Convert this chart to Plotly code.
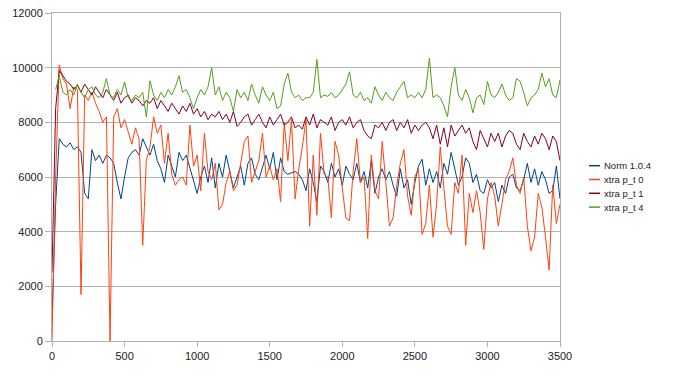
import plotly.graph_objects as go

x_values = list(range(0, 3501, 25))

norm_104 = [
    800, 5000, 7400, 7200, 7100, 7250, 7000, 7100,
    6900, 5400, 5200, 7000, 6600, 6800, 6500, 6800,
    6700, 6500, 5800, 5200, 6000, 6700, 6900, 7000,
    6800, 7400, 7100, 6800, 7200, 6600, 6300, 5800,
    6800, 6400, 6000, 6900, 6600, 6800, 6300, 5800,
    5400, 6000, 6400, 5800, 6700, 5600, 6500, 6000,
    6800, 6200, 5600, 6000, 6400, 5700, 6500, 6700,
    6100, 5900, 6400, 6800, 6300, 6900, 5900, 6700,
    6200, 6100, 6150, 6200, 6100, 5900, 5500, 6300,
    5800, 5100, 6400, 6200, 5800, 6500, 6000, 6300,
    5700, 6400, 6100, 5900, 6500, 5800, 6200, 5600,
    6600, 5400, 6000, 6300, 5900, 6200, 5700, 5300,
    6300, 5600, 5900, 5000, 5800, 6400, 6650, 5700,
    6300, 5800, 6200, 5600, 6500, 6100, 6900, 6300,
    5700, 6000, 6700, 6500, 5800, 6100, 5500, 5400,
    5900, 5600, 5800, 5100, 5700, 5400, 6000, 6100,
    5600, 5500, 5900, 6500, 5800, 6300, 5700, 6200,
    5900, 5400, 5500, 6400, 5200,
]

xtra_pt0 = [
    0, 6000, 10100, 9600, 9400, 8500, 9300, 9200,
    1700, 9000, 8800, 9100, 8700, 8400, 8000, 8200,
    0, 8200, 8500, 7800, 8100, 7600, 7200, 7800,
    7400, 3500, 6600, 7100, 8200, 7600, 7900, 6500,
    7600, 6100, 5700, 5900, 6000, 5700, 7900, 6400,
    6800, 5500, 7600, 6200, 5900, 6500, 4800, 5000,
    5800, 6200, 5500, 5700, 6500, 7300, 7500, 5800,
    6200, 6600, 7600, 6000, 6400, 5900, 6300, 5100,
    8000, 6600, 8100, 5200, 6300, 7100, 8100, 4200,
    6800, 4600, 7600, 6100, 6000, 4500, 7300, 6800,
    5600, 4500, 4400, 6200, 7400, 5800, 6000, 3750,
    6800, 5500, 5200, 7300, 5800, 4200, 4500, 5700,
    6500, 7000, 5300, 4600, 6000, 6300, 3900, 4300,
    5700, 3800, 5000, 7100, 5600, 4200, 3900, 5800,
    5400, 6800, 3500, 5400, 4700, 5500, 4700, 3350,
    5200, 5800, 5300, 4200, 5000, 5900, 6200, 6700,
    5700, 5400, 6000, 4200, 3300, 3800, 5400, 4900,
    3800, 2600, 5700, 4300, 5000,
]

xtra_pt1 = [
    2500, 8500, 9900, 9700, 9500, 9400, 9200, 9350,
    9100, 9400, 9200, 9000, 9300, 9100, 8900, 9200,
    9000, 8800, 9100, 8700, 8900, 9000, 8700, 8900,
    8800, 8600, 8800, 8700, 8900, 8500, 8800, 8600,
    8400, 8700, 8500, 8300, 8600, 8400, 8700, 8300,
    8500, 8200, 8400, 8100, 8300, 8200, 8400, 8100,
    8300, 8000, 8400, 7850, 8000, 8200, 8300, 7900,
    8100, 8300, 8000, 7800, 8200, 7900, 8100, 8300,
    7900, 8000, 8200, 7800, 7900, 7750, 8200, 7900,
    8300, 7800, 8100, 8000, 7900, 8200, 7700, 8000,
    8100, 7900, 8200, 7800, 8000, 8100, 7700, 7500,
    7400, 7900, 7800, 8000, 7700, 8000, 8100, 7700,
    8000, 7800, 8100, 7600, 7900, 7700, 7900, 8000,
    7800, 7400, 7900, 7200, 7800, 7100, 7900, 7500,
    7700, 7900, 7600, 7800, 7300, 7000, 7700, 7400,
    7100, 7600, 7300, 7600, 7100, 7500, 7700, 7600,
    7200, 7000, 7600, 7300, 7100, 7500, 7200, 7600,
    7400, 7000, 7500, 7300, 6600,
]

xtra_pt4 = [
    None, 9200, 9700, 9100, 9000, 9200, 9000, 9400,
    9100, 8900, 9200, 9300, 9000, 8900, 9100, 9600,
    9000, 8900, 9200, 9000, 9480, 8900, 8800, 9000,
    8900, 9100, 8200, 9520, 9000, 8800, 9100, 8900,
    9200, 9000, 9300, 9700, 9100, 9200, 8900, 8500,
    8900, 9200, 9000, 9300, 10000, 9000, 9300, 8800,
    9100, 8900, 8400, 9200, 8900, 9100, 8800, 9400,
    9000, 8700, 9300, 9000, 8800, 9100, 8500, 8600,
    9400, 9800, 9100, 8900, 9000, 8800, 8900, 8900,
    9100, 10300, 8900, 9000, 8950, 9100, 8900, 9000,
    9200, 9400, 9850, 9000, 8900, 9100, 8800, 8900,
    8700, 9300, 9000, 8800, 9100, 8900, 8800, 9100,
    9300, 9500, 8900, 9000, 8900, 9100, 8900, 9200,
    10350, 8900, 9000, 8900, 8600, 8200, 9300, 10000,
    9000, 8800, 9200, 8900, 8350, 8900, 9000, 8650,
    9500, 9000, 8900, 9100, 9400, 9000, 8800, 8900,
    9600, 9500, 9100, 8600, 8900, 9000, 9200, 9800,
    9300, 9600, 9000, 8900, 9550,
]

series_names = ["Norm 1.0.4", "xtra p_t 0", "xtra p_t 1", "xtra p_t 4"]
series_values = [norm_104, xtra_pt0, xtra_pt1, xtra_pt4]
colors = ["#004586", "#ff420e", "#7e0021", "#579d1c"]

y_ticks = [0, 2000, 4000, 6000, 8000, 10000, 12000]
y_tick_labels = ["0", "2000", "4000", "6000", "8000", "10000", "12000"]
x_ticks = [0, 500, 1000, 1500, 2000, 2500, 3000, 3500]
x_tick_labels = ["0", "500", "1000", "1500", "2000", "2500", "3000", "3500"]

fig = go.Figure()
for name, vals, col in zip(series_names, series_values, colors):
    assert len(vals) == len(x_values), (name, len(vals))
    fig.add_trace(go.Scatter(x=x_values, y=vals, mode="lines", name=name,
                             line=dict(color=col, width=1), connectgaps=False,
                             showlegend=False))

# page offset compensation (body margin of the html page)
OFF = 8
FIG_W, FIG_H = 675 - OFF, 377 - OFF
L, R, T, B = 52 - OFF, 560 - OFF, 13 - OFF, 341 - OFF
W, H = R - L, B - T


def px(xp):
    return (xp - OFF - L) / W


def py(yp):
    return (B - (yp - OFF)) / H


legend_y = [165.7, 179.5, 193.3, 207.1]
for name, col, yy in zip(series_names, colors, legend_y):
    fig.add_shape(type="line", xref="paper", yref="paper",
                  x0=px(589), x1=px(600), y0=py(yy), y1=py(yy),
                  line=dict(color=col, width=1.5))
    fig.add_annotation(xref="paper", yref="paper", x=px(602), y=py(yy),
                       text=name, showarrow=False, xanchor="left", yanchor="middle",
                       font=dict(family="Liberation Sans", size=9.5, color="#222"))

tickfont = dict(family="Liberation Sans", size=11, color="#222")

fig.update_layout(
    width=FIG_W, height=FIG_H,
    margin=dict(l=L, r=FIG_W - R, t=T, b=FIG_H - B, autoexpand=False),
    paper_bgcolor="white", plot_bgcolor="white",
    xaxis=dict(range=[0, 3500], tickvals=x_ticks, ticktext=x_tick_labels,
               ticklen=5, showgrid=False, showline=True, linecolor="#b3b3b3",
               linewidth=1, mirror=True, ticks="outside", tickcolor="#b3b3b3",
               zeroline=False, tickfont=tickfont, automargin=False,
               ticklabeloverflow="allow"),
    yaxis=dict(range=[0, 12000], tickvals=y_ticks, ticktext=y_tick_labels,
               ticklen=6, showgrid=True, gridcolor="#b3b3b3", gridwidth=1,
               showline=True, linecolor="#b3b3b3", linewidth=1, mirror=True,
               ticks="outside", tickcolor="#b3b3b3", zeroline=False,
               tickfont=tickfont, automargin=False, ticklabeloverflow="allow"),
)

fig.write_html("out.html")
